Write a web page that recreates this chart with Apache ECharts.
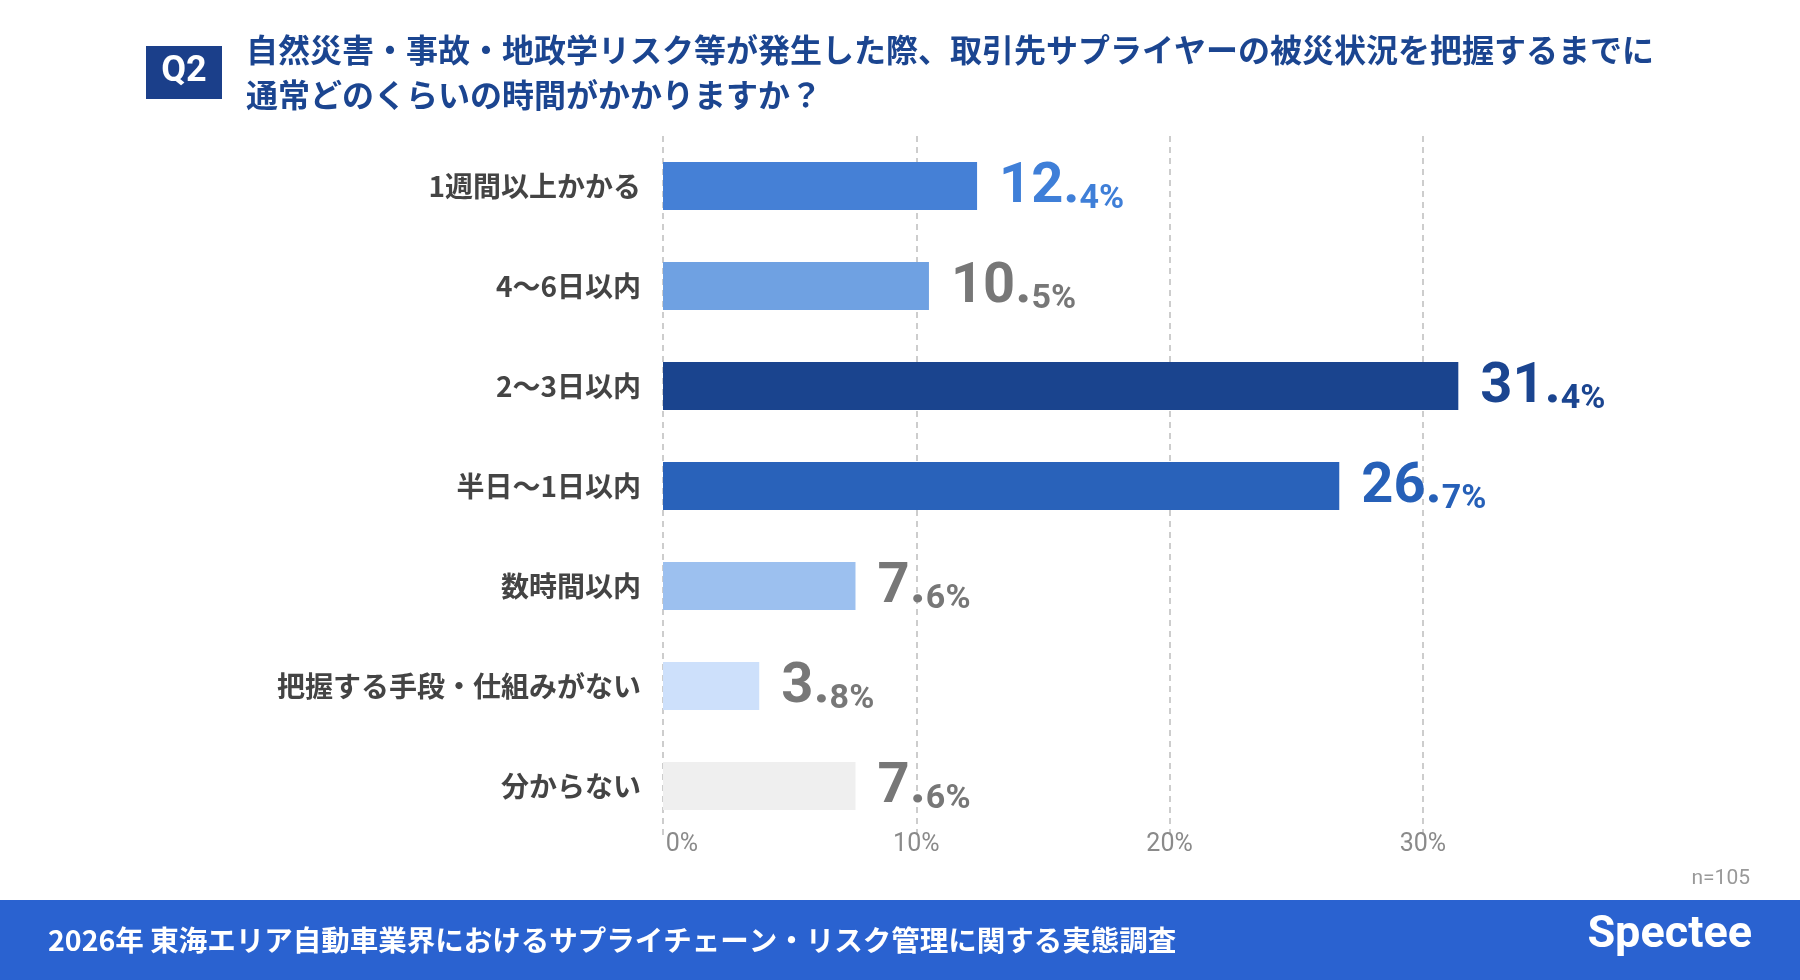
<!DOCTYPE html>
<html><head><meta charset="utf-8">
<script src="https://cdn.jsdelivr.net/npm/echarts@6/dist/echarts.min.js"></script>
<style>html,body{margin:0;padding:0;background:#fff}#c{width:1800px;height:980px}</style>
</head><body><div id="c"></div>
<script>
const categories = ['1週間以上かかる','4〜6日以内','2〜3日以内','半日〜1日以内','数時間以内','把握する手段・仕組みがない','分からない'];
const values = [12.4,10.5,31.4,26.7,7.6,3.8,7.6];
const barColors = ['#4580d6','#6fa1e2','#1a448e','#2962ba','#9cc0ef','#cde0fb','#efefef'];
const labelColors = ['#3f7fd8','#777777','#1b4590','#2660b8','#777777','#777777','#777777'];
const xTicks = [0,10,20,30];
const F = '"Noto Sans CJK JP","Noto Sans",sans-serif';
const chart = echarts.init(document.getElementById('c'));
chart.setOption({
  animation:false,
  grid:{left:663,top:136,width:886.5,height:700},
  xAxis:{type:'value',min:0,max:35,interval:10,
    axisLine:{show:false},axisTick:{show:false},
    axisLabel:{formatter:v=>v===0?'{l|0%}':(xTicks.includes(v)?v+'%':''),color:'#8a8a8a',fontSize:25,fontFamily:'Roboto,sans-serif',align:'center',margin:-4,
      rich:{l:{fontSize:25,color:'#8a8a8a',fontFamily:'Roboto,sans-serif',padding:[0,0,0,38]}}},
    splitLine:{show:true,lineStyle:{type:[6,5],color:'#bdbdbd',width:1.5},showMaxLine:false}},
  yAxis:{type:'category',inverse:true,data:categories,
    axisLine:{show:false},axisTick:{show:false},
    axisLabel:{color:'#444',fontSize:28,fontWeight:'bold',fontFamily:F,margin:22}},
  series:[{type:'bar',barWidth:48,
    data:values.map((v,i)=>({value:v,itemStyle:{color:barColors[i]},
      label:{show:true,position:'right',distance:22,
        formatter:()=>{const s=v.toFixed(1).split('.');return '{a|'+s[0]+'.}{b|'+s[1]+'%}';},
        rich:{a:{fontSize:56,fontWeight:'bold',color:labelColors[i],fontFamily:'Roboto,sans-serif',verticalAlign:'bottom',lineHeight:60},
              b:{fontSize:34,fontWeight:'bold',color:labelColors[i],fontFamily:'Roboto,sans-serif',verticalAlign:'bottom',lineHeight:52}}}}))}],
  graphic:[
    {type:'rect',shape:{x:146,y:46,width:76,height:53},style:{fill:'#1b3f8a'}},
    {type:'text',x:184,y:72,style:{text:'Q2',fill:'#fff',fontSize:36,fontWeight:'bold',fontFamily:'Roboto,sans-serif',align:'center',verticalAlign:'middle'}},
    {type:'text',x:246,y:50,style:{text:'自然災害・事故・地政学リスク等が発生した際、取引先サプライヤーの被災状況を把握するまでに',fill:'#1b4590',fontSize:32,fontWeight:'bold',fontFamily:F,verticalAlign:'middle'}},
    {type:'text',x:246,y:95,style:{text:'通常どのくらいの時間がかかりますか？',fill:'#1b4590',fontSize:32,fontWeight:'bold',fontFamily:F,verticalAlign:'middle'}},
    {type:'text',x:1750,y:879,style:{text:'n=105',fill:'#999',fontSize:21,fontFamily:'Roboto,sans-serif',align:'right',verticalAlign:'middle'}},
    {type:'rect',shape:{x:0,y:900,width:1800,height:80},style:{fill:'#2a62d0'}},
    {type:'text',x:48,y:940,style:{text:'2026年 東海エリア自動車業界におけるサプライチェーン・リスク管理に関する実態調査',fill:'#fff',fontSize:28.5,fontWeight:'bold',fontFamily:F,verticalAlign:'middle'}},
    {type:'text',x:1752,y:936,style:{text:'Spectee',fill:'#fff',fontSize:45,fontWeight:'bold',fontFamily:'Roboto,sans-serif',align:'right',verticalAlign:'middle'}}
  ]
});
</script></body></html>
